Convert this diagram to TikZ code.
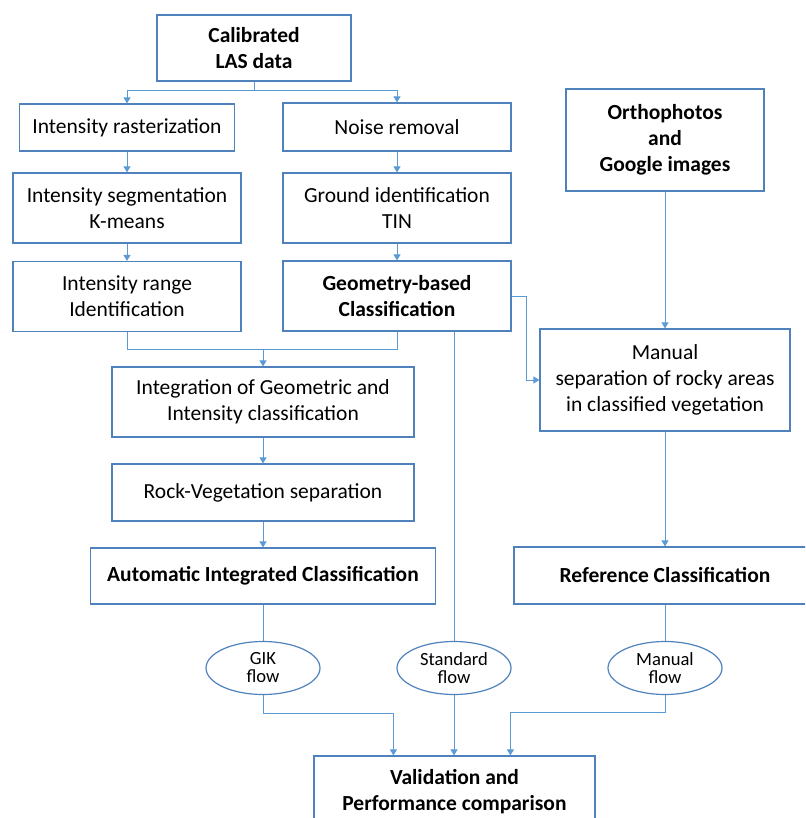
\documentclass[tikz,border=0pt]{standalone}
\usepackage{fontspec}
\setmainfont{Carlito}
\usetikzlibrary{arrows.meta,shapes.geometric,calc}
\definecolor{boxcol}{RGB}{79,129,189}
\definecolor{linecol}{RGB}{91,155,213}
\begin{document}
\begin{tikzpicture}[x=1pt,y=-1pt,
  box/.style={draw=boxcol, line width=1.2pt, rectangle, inner sep=0pt, align=center,
    font=\fontsize{21.5}{26}\selectfont},
  oval/.style={draw=boxcol, line width=1.2pt, ellipse, inner sep=0pt, align=center,
    minimum width=114pt, minimum height=53pt, font=\fontsize{18.6}{18}\selectfont},
  conn/.style={draw=linecol, line width=1pt},
  arr/.style={conn, -{Triangle[length=6pt,width=7pt]}}]
\useasboundingbox (0,0) rectangle (805,818);
\clip (0,0) rectangle (805,818);
% boxes
\node[box, minimum width=194pt, minimum height=66pt] (cal) at (254,48) {\textbf{Calibrated}\\\textbf{LAS data}};
\node[box, minimum width=215pt, minimum height=47pt] (irast) at (127,127.5) {Intensity rasterization};
\node[box, minimum width=228pt, minimum height=48pt] (noise) at (397,127) {Noise removal};
\node[box, minimum width=228pt, minimum height=70pt] (iseg) at (127,208) {Intensity segmentation\\K-means};
\node[box, minimum width=228pt, minimum height=70pt] (ground) at (397,208) {Ground identification\\TIN};
\node[box, minimum width=228pt, minimum height=70pt] (irange) at (127,296.5) {Intensity range\\Identification};
\node[box, minimum width=228pt, minimum height=70pt] (geom) at (397,296) {\textbf{Geometry-based}\\\textbf{Classification}};
\node[box, minimum width=198pt, minimum height=102pt] (ortho) at (665,140) {\textbf{Orthophotos}\\\textbf{and}\\\textbf{Google images}};
\node[box, minimum width=250pt, minimum height=102pt] (manual) at (665,380) {Manual\\separation of rocky areas\\in classified vegetation};
\node[box, minimum width=302pt, minimum height=70pt] (integ) at (263,402) {Integration of Geometric and\\Intensity classification};
\node[box, minimum width=302pt, minimum height=57pt] (rock) at (263,492.5) {Rock-Vegetation separation};
\node[box, minimum width=345pt, minimum height=56pt] (auto) at (263,576) {\textbf{Automatic Integrated Classification}};
\node[box, minimum width=302pt, minimum height=57pt] (ref) at (665,575.5) {\textbf{Reference Classification}};
\node[oval] (gik) at (263,668) {GIK\\flow};
\node[oval] (std) at (454,668) {Standard\\flow};
\node[oval] (mflow) at (665,668) {Manual\\flow};
\node[box, minimum width=281pt, minimum height=72pt] (valid) at (454.5,792) {\textbf{Validation and}\\\textbf{Performance comparison}};
% connectors
\coordinate (j1) at (254,91);
\draw[conn] (cal) -- (j1);
\draw[arr] (j1) -| (irast);
\draw[arr] (j1) -| (noise);
\draw[arr] (irast) -- (iseg);
\draw[arr] (iseg) -- (irange);
\draw[arr] (noise) -- (ground);
\draw[arr] (ground) -- (geom);
\coordinate (j2) at (263,349);
\draw[conn] (irange.south) |- (geom.south |- j2) -- (geom.south);
\draw[arr] (j2) -- (integ);
\draw[arr] (integ) -- (rock);
\draw[arr] (rock) -- (auto);
\draw[conn] (auto) -- (gik);
\draw[arr] (gik.south) -- ++(0,18) -| ([xshift=80pt]valid.north west);
\draw[conn] (std.north |- geom.south) -- (std.north);
\draw[arr] (std.south) -- (std.south |- valid.north);
\draw[arr] (ortho) -- (manual);
\draw[arr] (manual) -- (ref);
\draw[conn] (ref) -- (mflow);
\draw[arr] (mflow.south) -- ++(0,17) -| ([xshift=197pt]valid.north west);
\draw[arr] (geom.east) -- ++(15,0) |- (manual.west);
\end{tikzpicture}
\end{document}
